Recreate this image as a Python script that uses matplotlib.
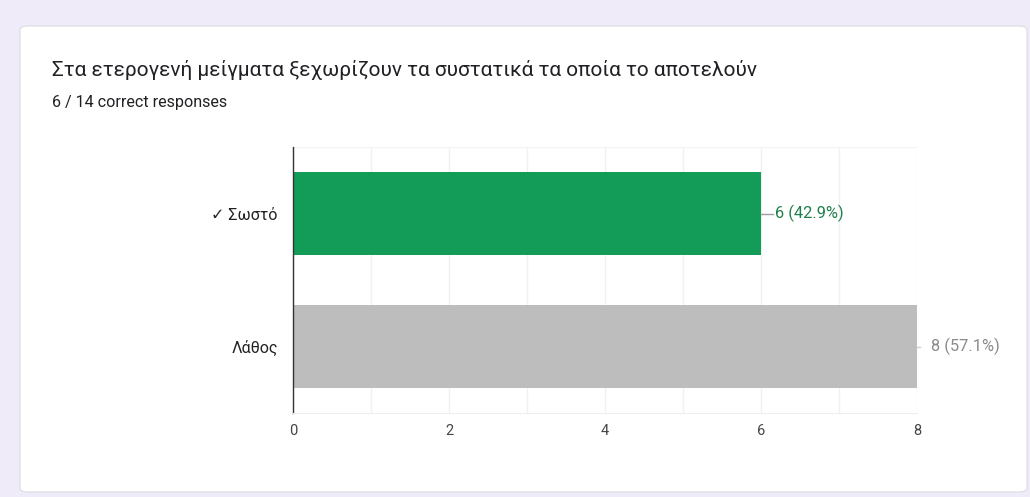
import matplotlib.pyplot as plt
from matplotlib.patches import FancyBboxPatch, Rectangle

categories = ["✓ Σωστό", "Λάθος"]
counts = [6, 8]
total = 14
bar_colors = ["#129c58", "#bdbdbd"]
label_colors = ["#1e7f48", "#8a8a8a"]
title = "Στα ετερογενή μείγματα ξεχωρίζουν τα συστατικά τα οποία το αποτελούν"
subtitle = "6 / 14 correct responses"
xticks = [0, 2, 4, 6, 8]

plt.rcParams['font.family'] = ['Roboto', 'DejaVu Sans']

W, H = 1030, 497
fig = plt.figure(figsize=(W / 100, H / 100), dpi=100)
fig.patch.set_facecolor("#f0ebf8")

# white card
card = FancyBboxPatch((20 / W, (H - 492) / H), (1027 - 20) / W, (492 - 26) / H,
                      boxstyle="round,pad=0,rounding_size=0.008",
                      transform=fig.transFigure, facecolor="white",
                      edgecolor="#dadce0", linewidth=0.8, zorder=-5)
fig.patches.append(card)

fig.text(52 / W, 1 - 70 / H, title, fontsize=15.0, color="#202124",
         va="center", ha="left")
fig.text(52 / W, 1 - 103 / H, subtitle, fontsize=11.6, color="#202124",
         va="center", ha="left")

ax = fig.add_axes([293 / W, 1 - 413 / H, (917 - 293) / W, (413 - 147) / H])
ax.set_zorder(1)
ax.set_facecolor("white")
ypos = list(range(len(categories)))
ax.barh(ypos, counts, height=0.63, color=bar_colors, zorder=2)
ax.set_xlim(0, 8)
ax.set_ylim(len(categories) - 0.5, -0.5)
ax.set_yticks(ypos)
ax.set_yticklabels(categories, fontsize=11.5, color="#222222")
ax.set_xticks(xticks)
ax.set_xticklabels([str(t) for t in xticks], fontsize=10.5, color="#444444")
ax.set_xticks(range(0, 9), minor=True)
ax.grid(axis="x", which="both", color="#f1f1f1", linewidth=1, zorder=0)
ax.tick_params(axis="both", which="both", length=0)
ax.tick_params(axis="y", pad=11)
ax.tick_params(axis="x", pad=8)
for s in ["top", "right"]:
    ax.spines[s].set_visible(False)
ax.spines["bottom"].set_color("#eeeeee")
ax.spines["left"].set_color("#333333")
ax.spines["left"].set_linewidth(1.0)
ax.axhline(-0.5, color="#f4f4f4", linewidth=1, zorder=1)

for y, v, c, lc, ll in zip(ypos, counts, label_colors, ["#9e9e9e", "#d0d0d0"], [0.15, 0.04]):
    ax.plot([v, v + ll], [y, y], color=lc, linewidth=1, clip_on=False, zorder=3)
    ax.text(v + 0.18, y, f"{v} ({v / total * 100:.1f}%)", color=c,
            fontsize=11.8, va="center", ha="left", clip_on=False)

fig.savefig("out.png", dpi=100, facecolor=fig.get_facecolor())
